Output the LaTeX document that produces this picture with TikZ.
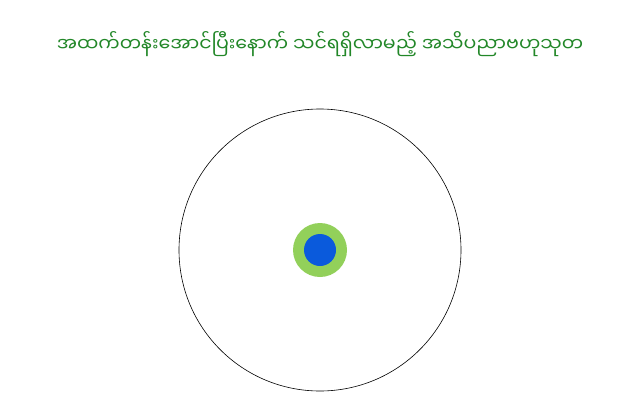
\documentclass[tikz,border=0pt]{standalone}
\usepackage{fontspec}
\newfontfamily\myfont[Script=Myanmar]{Noto Sans Myanmar UI}
\definecolor{titlegreen}{RGB}{34,135,40}
\definecolor{ringgreen}{RGB}{146,208,90}
\definecolor{coreblue}{RGB}{10,90,220}
\begin{document}
\begin{tikzpicture}[x=1pt,y=-1pt]
\useasboundingbox (0,0) rectangle (640,400);
\tikzset{titletext/.style={font=\myfont\fontsize{19}{22}\selectfont, text=titlegreen, inner sep=0pt}}
\node[titletext] (title) at (320,44) {အထက်တန်းအောင်ပြီးနောက် သင်ရရှိလာမည့် အသိပညာဗဟုသုတ};
\node[circle, draw=black, line width=0.6pt, minimum size=282pt, inner sep=0pt] (outer) at (320,250) {};
\node[circle, fill=ringgreen, minimum size=54pt, inner sep=0pt] (ring) at (320,250) {};
\node[circle, fill=coreblue, minimum size=32pt, inner sep=0pt] (core) at (320,250) {};
\end{tikzpicture}
\end{document}
